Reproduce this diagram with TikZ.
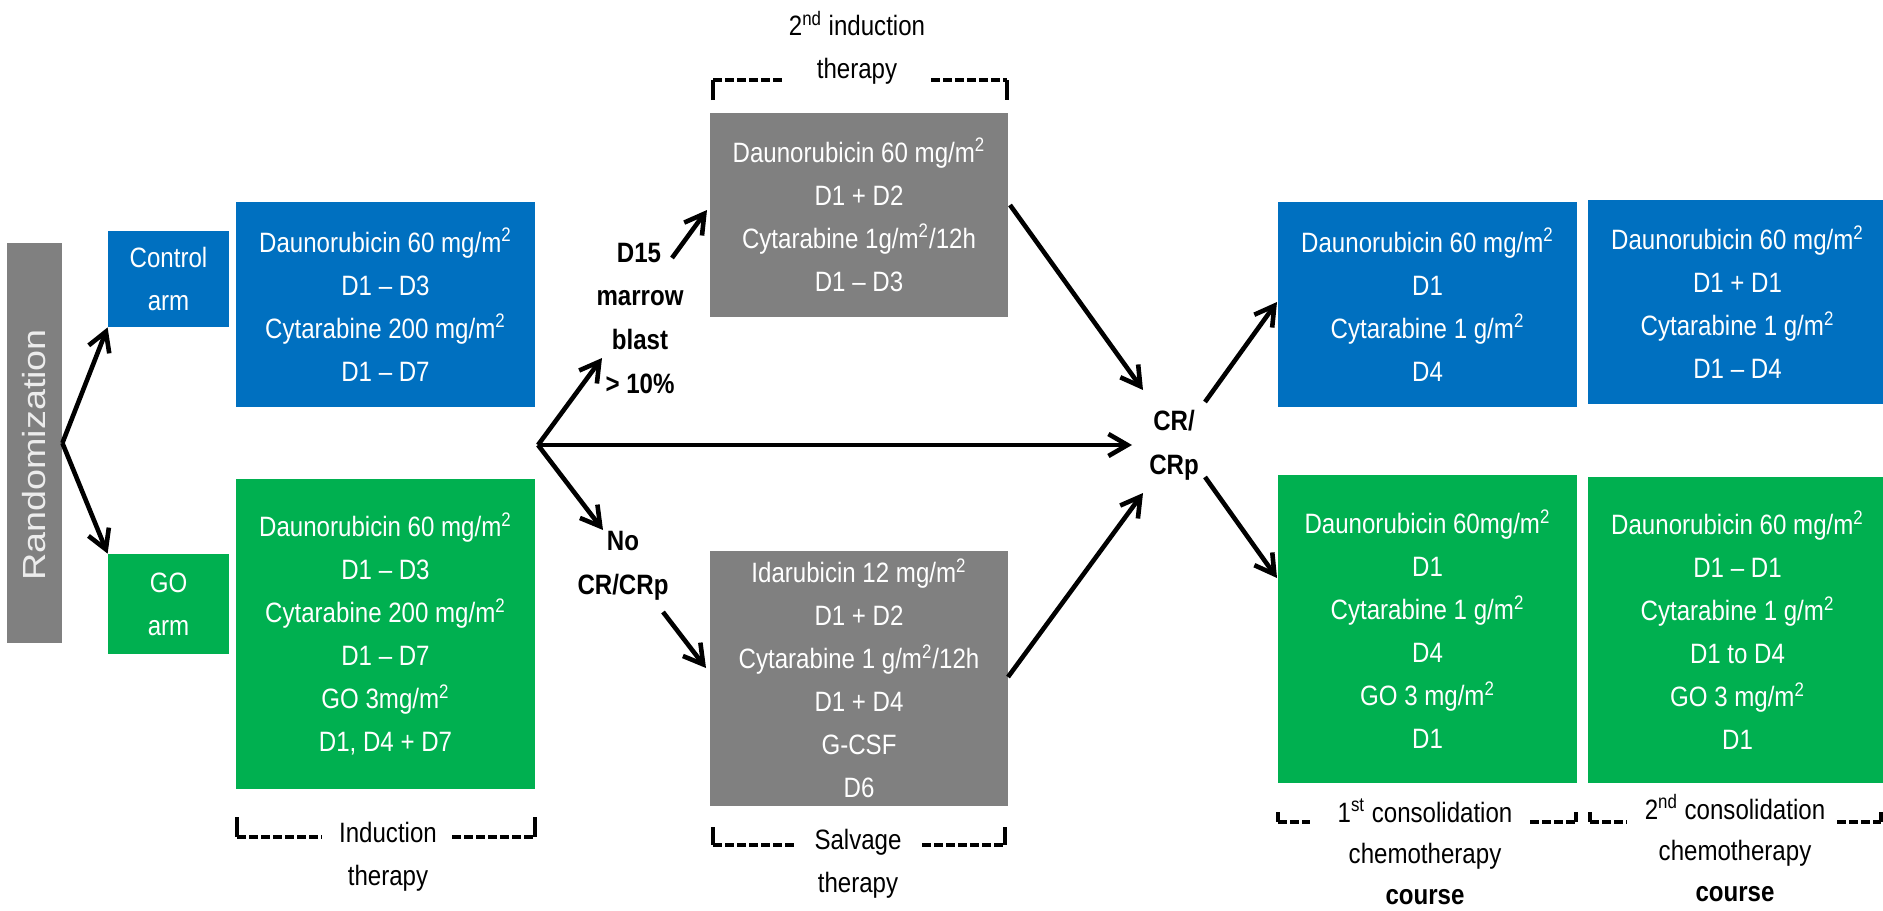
\documentclass[tikz,border=0pt]{standalone}
\usepackage{fontspec}
\setmainfont[FakeStretch=0.86]{Liberation Sans}
\newfontfamily\randfont{Liberation Sans}
\usetikzlibrary{arrows.meta}
\definecolor{cblue}{HTML}{0070C0}
\definecolor{cgreen}{HTML}{00B050}
\definecolor{cgray}{HTML}{808080}
\newcommand\msq{\textsuperscript{2}}
\begin{document}
\begin{tikzpicture}[x=0.5pt,y=-0.5pt,
  box/.style={rectangle, inner sep=0pt, text=white, align=center, font=\fontsize{14}{21.5}\selectfont},
  bluebox/.style={box, fill=cblue},
  greenbox/.style={box, fill=cgreen},
  graybox/.style={box, fill=cgray},
  wide/.style={minimum width=149.5pt},
  arr/.style={line width=2.3pt, -{Straight Barb[length=9.5pt,width=11pt]}},
  lbl/.style={align=center, inner sep=0pt, font=\fontsize{14}{21.5}\selectfont},
  clbl/.style={align=center, inner sep=0pt, font=\fontsize{14}{20.5}\selectfont},
  blbl/.style={align=center, inner sep=0pt, font=\fontsize{14}{22}\selectfont\bfseries},
  brk/.style={line width=1.6pt, dash pattern=on 4.5pt off 1.5pt},
  tick/.style={line width=1.6pt}
]
\useasboundingbox (0,0) rectangle (1883,910);
\clip (0,0) rectangle (1883,910);
\fill[white] (0,0) rectangle (1883,910);

% boxes
\node[graybox, minimum width=27.5pt, minimum height=200pt] (rand) at (34.5,443) {};
\node[rotate=90, text=gray!15, inner sep=0pt, font=\randfont\fontsize{16}{19}\selectfont] (randt) at (34.5,455) {\scalebox{1.18}[1]{Randomization}};
\node[bluebox, minimum width=60.5pt, minimum height=48pt] (ctrl) at (168.5,279) {Control\\arm};
\node[greenbox, minimum width=60.5pt, minimum height=50pt] (goarm) at (168.5,604) {GO\\arm};

\node[bluebox, wide, minimum height=102.5pt] (indB) at (385.5,304.5)
  {Daunorubicin 60 mg/m\msq\\D1 – D3\\Cytarabine 200 mg/m\msq\\D1 – D7};
\node[greenbox, wide, minimum height=155pt] (indG) at (385.5,634)
  {Daunorubicin 60 mg/m\msq\\D1 – D3\\Cytarabine 200 mg/m\msq\\D1 – D7\\GO 3mg/m\msq\\D1, D4 + D7};

\node[graybox, minimum width=149pt, minimum height=102pt] (ind2) at (859,215)
  {Daunorubicin 60 mg/m\msq\\D1 + D2\\Cytarabine 1g/m\msq/12h\\D1 – D3};
\node[graybox, minimum width=149pt, minimum height=127.5pt] (salv) at (859,678.5)
  {Idarubicin 12 mg/m\msq\\D1 + D2\\Cytarabine 1 g/m\msq/12h\\D1 + D4\\G-CSF\\D6};

\node[bluebox, wide, minimum height=102.5pt] (c1B) at (1427.5,304.5)
  {Daunorubicin 60 mg/m\msq\\D1\\Cytarabine 1 g/m\msq\\D4};
\node[bluebox, wide, minimum height=102pt] (c2B) at (1737.5,302)
  {Daunorubicin 60 mg/m\msq\\D1 + D1\\Cytarabine 1 g/m\msq\\D1 – D4};
\node[greenbox, wide, minimum height=154pt] (c1G) at (1427.5,629)
  {Daunorubicin 60mg/m\msq\\D1\\Cytarabine 1 g/m\msq\\D4\\GO 3 mg/m\msq\\D1};
\node[greenbox, wide, minimum height=153pt] (c2G) at (1737.5,630)
  {Daunorubicin 60 mg/m\msq\\D1 – D1\\Cytarabine 1 g/m\msq\\D1 to D4\\GO 3 mg/m\msq\\D1};

% bold labels
\node[blbl] (d15) at (639,253) {D15};
\node[blbl] (mbl) at (640,342) {marrow\\blast\\> 10\%};
\node[blbl] (nocr) at (623,566) {No\\CR/CRp};
\node[blbl] (cr) at (1174,445) {CR/\\CRp};

% plain labels
\node[lbl] (t2ind) at (857,48) {2\textsuperscript{nd} induction\\therapy};
\node[lbl] (tind) at (388,857) {Induction\\therapy};
\node[lbl] (tsal) at (858,864) {Salvage\\therapy};
\node[clbl] (tc1) at (1425,852) {1\textsuperscript{st} consolidation\\chemotherapy\\\textbf{course}};
\node[clbl] (tc2) at (1735,848) {2\textsuperscript{nd} consolidation\\chemotherapy\\\textbf{course}};

% connector end points
\coordinate (F) at (538,445);
\coordinate (fUp) at (602,358);
\coordinate (fDn) at (603,530);
\coordinate (crIn) at (1132,445);
\coordinate (dA) at (672,258);
\coordinate (dB) at (707,210);
\coordinate (nA) at (663,612);
\coordinate (nB) at (706,668);
\coordinate (i2A) at (1010,205);
\coordinate (crTL) at (1143,390);
\coordinate (slA) at (1008,677);
\coordinate (crBL) at (1143,493);
\coordinate (crTR) at (1205,402);
\coordinate (c1Bin) at (1277,302);
\coordinate (crBR) at (1205,477);
\coordinate (c1Gin) at (1277,578);

% arrows
\draw[arr] (rand.east) -- (ctrl.south west);
\draw[arr] (rand.east) -- (goarm.north west);
\draw[arr] (F) -- (fUp);
\draw[arr] (F) -- (crIn);
\draw[arr] (F) -- (fDn);
\draw[arr] (dA) -- (dB);
\draw[arr] (nA) -- (nB);
\draw[arr] (i2A) -- (crTL);
\draw[arr] (slA) -- (crBL);
\draw[arr] (crTR) -- (c1Bin);
\draw[arr] (crBR) -- (c1Gin);

% brackets
\draw[tick] (713,100) -- (713,80);
\draw[brk] (713,80) -- (783,80);
\draw[brk] (931,80) -- (1007,80);
\draw[tick] (1007,80) -- (1007,100);

\draw[tick] (237,817) -- (237,837);
\draw[brk] (237,837) -- (322,837);
\draw[brk] (452,837) -- (535,837);
\draw[tick] (535,837) -- (535,817);

\draw[tick] (713,827) -- (713,845);
\draw[brk] (713,845) -- (795,845);
\draw[brk] (922,845) -- (1005,845);
\draw[tick] (1005,845) -- (1005,827);

\draw[tick] (1278,812) -- (1278,822);
\draw[brk] (1278,822) -- (1310,822);
\draw[brk] (1530,822) -- (1576,822);
\draw[tick] (1576,822) -- (1576,812);

\draw[tick] (1590,812) -- (1590,822);
\draw[brk] (1590,822) -- (1627,822);
\draw[brk] (1837,822) -- (1881,822);
\draw[tick] (1881,822) -- (1881,812);
\end{tikzpicture}
\end{document}
